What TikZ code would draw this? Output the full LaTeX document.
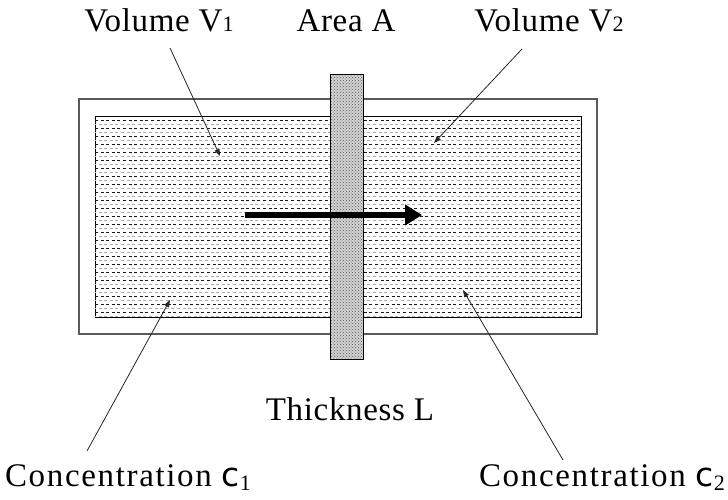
\documentclass[tikz,border=0pt]{standalone}
\usepackage{fontspec}
\setmainfont{Liberation Serif}
\newfontfamily\concfont{DejaVu Sans}
\usetikzlibrary{arrows.meta, patterns}

\newcommand{\smalldigit}[1]{{\fontsize{22}{22}\selectfont #1}}

\begin{document}
\begin{tikzpicture}[
    x=1pt, y=-1pt,
    label text/.style={font=\fontsize{33}{36}\selectfont\addfontfeature{LetterSpace=2},
        anchor=base, inner sep=0pt},
    wide text/.style={label text, font=\fontsize{33}{36}\selectfont\addfontfeature{LetterSpace=5}},
    outer box/.style={draw=black!65, line width=1.4pt, inner sep=0pt},
    fluid box/.style={draw=black, line width=1pt, fill=white, inner sep=0pt},
    fluid dash/.style={line width=0.9pt, dash pattern=on 3pt off 2.6pt},
    membrane/.style={draw=black, line width=1pt, inner sep=0pt,
        preaction={fill=gray!35}, pattern=crosshatch dots, pattern color=black!65},
    flow arrow/.style={draw=black, line width=6pt, -{Triangle[length=17pt, width=20pt]}},
    leader/.style={draw=black!85, line width=0.8pt, -{Triangle[length=7pt, width=5pt]}},
]
\useasboundingbox (0,0) rectangle (728,499);

% vessel and fluid
\node[outer box, minimum width=518pt, minimum height=235pt] (tank) at (338,216.5) {};
\node[fluid box, minimum width=486pt, minimum height=201pt] (fluid) at (338,216.5) {};
\begin{scope}
  \clip (fluid.north west) rectangle (fluid.south east);
  \foreach \y in {120,128,...,316}
    \draw[fluid dash, black!90] (95,\y) -- (581,\y);
  \foreach \y in {124,132,...,316}
    \draw[fluid dash, gray!65, dash phase=2pt] (95,\y) -- (581,\y);
\end{scope}

% membrane
\node[membrane, minimum width=33pt, minimum height=285pt] (memb) at (346.5,216.5) {};

% flux
\coordinate (flowstart) at (245,215);
\coordinate (flowend) at (422,215);
\draw[flow arrow] (flowstart) -- (flowend);

% labels
\node[label text] (volA) at (159,31) {Volume V\smalldigit{1}};
\node[label text] (area) at (346,31) {Area A};
\node[label text] (volB) at (549,31) {Volume V\smalldigit{2}};
\node[label text] (thick) at (350,420) {Thickness L};
\node[wide text] (concA) at (128,486)
    {Concentration {\concfont c}\raisebox{-4pt}{\smalldigit{1}}};
\node[wide text] (concB) at (602,486)
    {Concentration {\concfont c}\raisebox{-4pt}{\smalldigit{2}}};

% leader lines
\coordinate (volAfoot) at (170,48);   \coordinate (volAtip) at (220,156);
\coordinate (volBfoot) at (522,49);   \coordinate (volBtip) at (434,143);
\coordinate (concAfoot) at (87,451);  \coordinate (concAtip) at (170,300);
\coordinate (concBfoot) at (563,460); \coordinate (concBtip) at (463,290);
\draw[leader] (volAfoot) -- (volAtip);
\draw[leader] (volBfoot) -- (volBtip);
\draw[leader] (concAfoot) -- (concAtip);
\draw[leader] (concBfoot) -- (concBtip);

\end{tikzpicture}
\end{document}
